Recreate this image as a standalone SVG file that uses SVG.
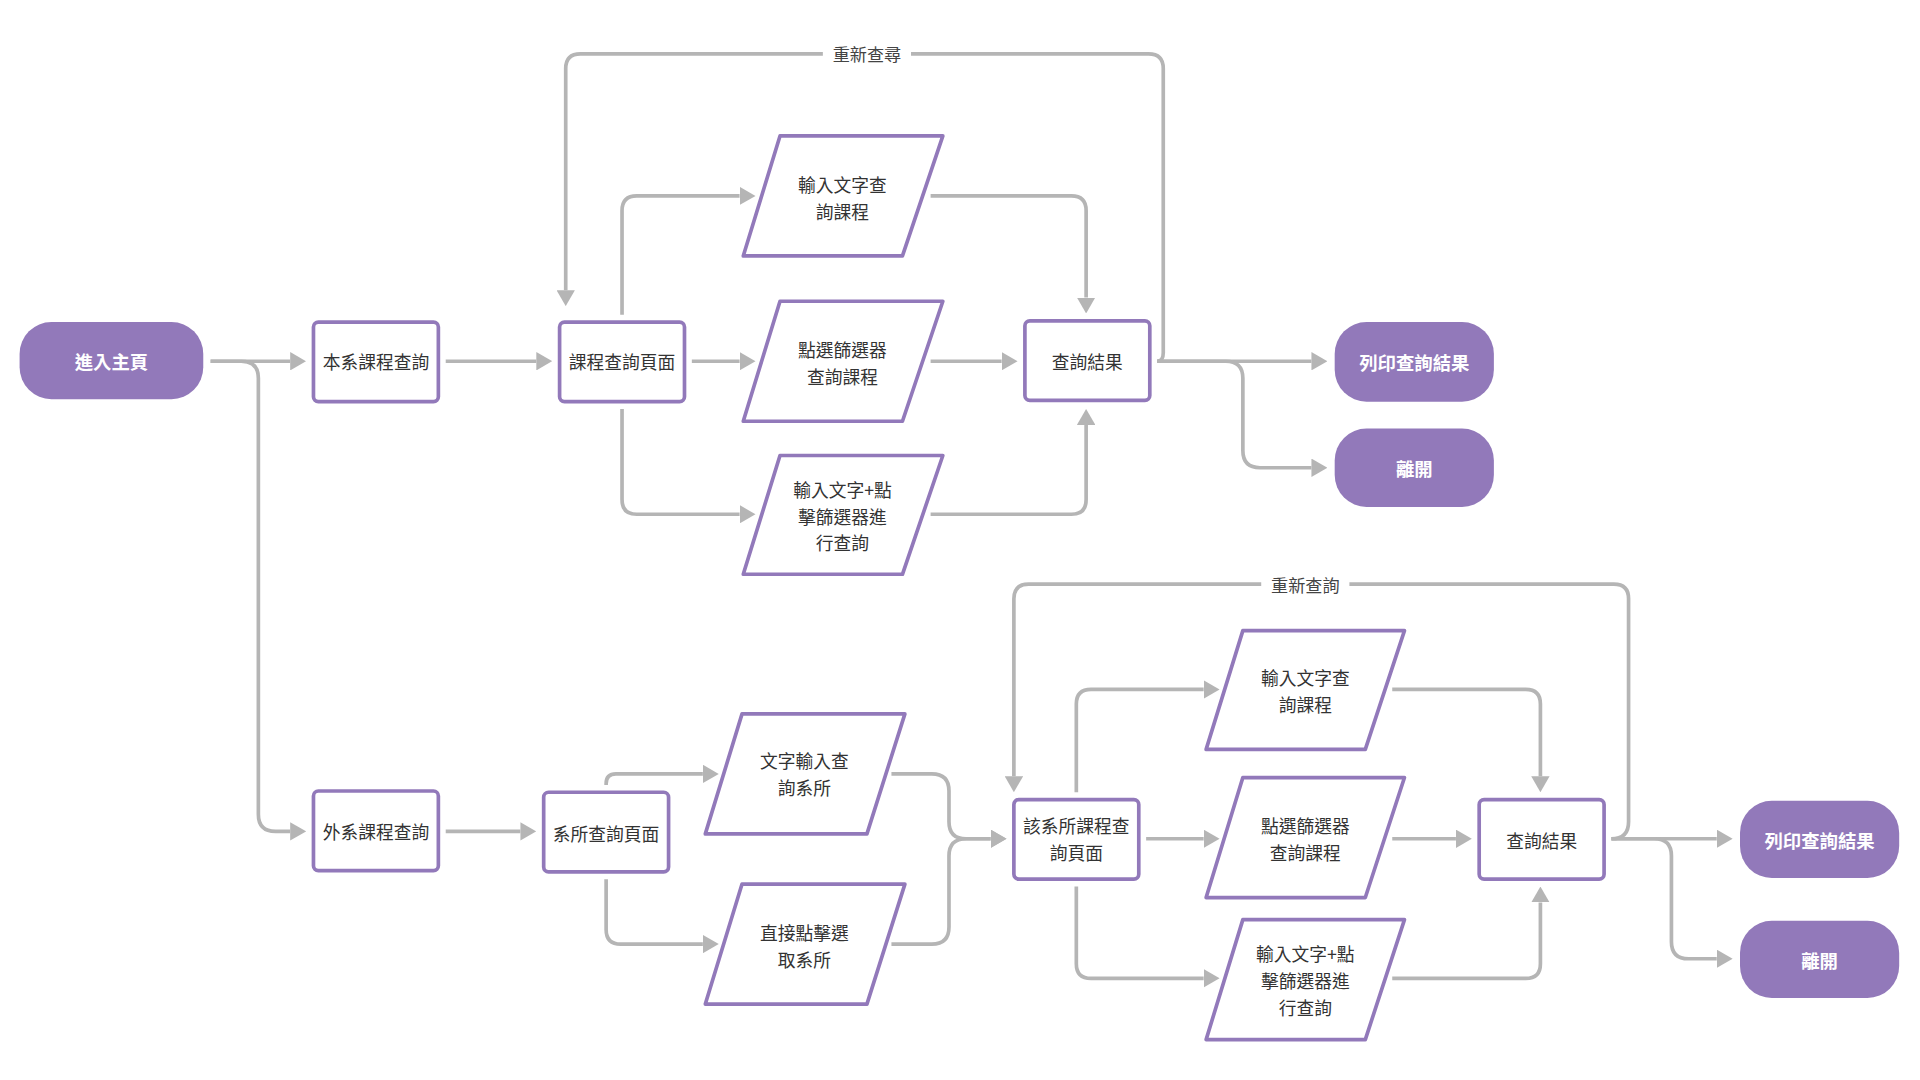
<svg xmlns="http://www.w3.org/2000/svg" width="1920" height="1080" viewBox="0 0 1920 1080">
<style>
.term{fill:#9279BA;}
.termt{fill:#ffffff;font-family:"Noto Sans CJK TC","Noto Sans CJK SC",sans-serif;font-size:15px;font-weight:bold;text-anchor:middle;dominant-baseline:central;}
.box{fill:#ffffff;stroke:#9279BA;stroke-width:3;}
.par{fill:#ffffff;stroke:#9279BA;stroke-width:3;stroke-linejoin:round;}
.t{fill:#333333;font-family:"Noto Sans CJK TC","Noto Sans CJK SC",sans-serif;font-size:14.5px;text-anchor:middle;dominant-baseline:central;}
.c{fill:none;stroke:#B5B5B5;stroke-width:3;marker-end:url(#ah);}
.cn{fill:none;stroke:#B5B5B5;stroke-width:3;}
.lbl{fill:#444444;font-family:"Noto Sans CJK TC","Noto Sans CJK SC",sans-serif;font-size:14px;text-anchor:middle;dominant-baseline:central;}
</style>
<defs>
<marker id="ah" markerUnits="userSpaceOnUse" markerWidth="13" markerHeight="15" viewBox="0 0 13 15" refX="0" refY="7.5" orient="auto">
<path d="M0,0 L13,7.5 L0,15 z" fill="#B5B5B5"/>
</marker>
</defs>
<rect width="1920" height="1080" fill="#ffffff"/>
<g transform="scale(1.22449)">
<g id="connectors">
<path class="c" d="M172,295 H237"/>
<path class="c" d="M172,295 H197 Q211,295 211,309 V665 Q211,679 225,679 H237"/>
<path class="c" d="M364,295 H438"/>
<path class="c" d="M508,257 V172 Q508,160 520,160 H604"/>
<path class="c" d="M565,295 H604"/>
<path class="c" d="M508,334 V408 Q508,420 520,420 H604"/>
<path class="c" d="M760,160 H875 Q887,160 887,172 V243"/>
<path class="c" d="M760,295 H818"/>
<path class="c" d="M760,420 H875 Q887,420 887,408 V347"/>
<path class="c" d="M945,295 H1071"/>
<path class="c" d="M945,295 H1001 Q1015,295 1015,309 V368 Q1015,382 1029,382 H1071"/>
<path class="c" d="M945,295 Q950,295 950,288 V56 Q950,44 938,44 H474 Q462,44 462,56 V237"/>
<path class="c" d="M364,679 H425"/>
<path class="c" d="M495,641 V640 Q495,632 503,632 H574"/>
<path class="c" d="M495,718 V759 Q495,771 507,771 H574"/>
<path class="c" d="M728,632 H761 Q775,632 775,646 V671 Q775,685 789,685 H809"/>
<path class="c" d="M728,771 H761 Q775,771 775,757 V699 Q775,685 789,685 H809"/>
<path class="c" d="M1316,685 Q1330,685 1330,671 V489 Q1330,477 1318,477 H840 Q828,477 828,489 V634"/>
<path class="c" d="M879,647 V575 Q879,563 891,563 H983"/>
<path class="c" d="M936,685 H983"/>
<path class="c" d="M879,724 V787 Q879,799 891,799 H983"/>
<path class="c" d="M1137,563 H1246 Q1258,563 1258,575 V634"/>
<path class="c" d="M1137,685 H1189"/>
<path class="c" d="M1137,799 H1246 Q1258,799 1258,787 V737"/>
<path class="c" d="M1316,685 H1402"/>
<path class="c" d="M1316,685 H1351 Q1365,685 1365,699 V769 Q1365,783 1379,783 H1402"/>
<rect x="672" y="34" width="72" height="20" fill="#ffffff"/>
<text class="lbl" x="708" y="44">重新查尋</text>
<rect x="1030" y="467" width="72" height="20" fill="#ffffff"/>
<text class="lbl" x="1066" y="477">重新查詢</text>
</g>
<g id="n_home"><rect class="term" x="16" y="263" width="150" height="63" rx="26"/><text class="termt" x="91" y="295">進入主頁</text></g>
<g id="n_dept"><rect class="box" x="256" y="263" width="102" height="65" rx="4"/><text class="t" x="307" y="295">本系課程查詢</text></g>
<g id="n_page"><rect class="box" x="457" y="263" width="102" height="65" rx="4"/><text class="t" x="508" y="295">課程查詢頁面</text></g>
<g id="n_in1"><path class="par" d="M637,111 H770 L737,209 H607 Z"/><text class="t" x="688" y="150">輸入文字查</text><text class="t" x="688" y="172">詢課程</text></g>
<g id="n_fl1"><path class="par" d="M637,246 H770 L737,344 H607 Z"/><text class="t" x="688" y="285">點選篩選器</text><text class="t" x="688" y="307">查詢課程</text></g>
<g id="n_both1"><path class="par" d="M637,372 H770 L737,469 H607 Z"/><text class="t" x="688" y="399">輸入文字+點</text><text class="t" x="688" y="421">擊篩選器進</text><text class="t" x="688" y="443">行查詢</text></g>
<g id="n_res1"><rect class="box" x="837" y="262" width="102" height="65" rx="4"/><text class="t" x="888" y="295">查詢結果</text></g>
<g id="n_print1"><rect class="term" x="1090" y="263" width="130" height="65" rx="26"/><text class="termt" x="1155" y="296">列印查詢結果</text></g>
<g id="n_exit1"><rect class="term" x="1090" y="350" width="130" height="64" rx="26"/><text class="termt" x="1155" y="382">離開</text></g>
<g id="n_other"><rect class="box" x="256" y="646" width="102" height="65" rx="4"/><text class="t" x="307" y="679">外系課程查詢</text></g>
<g id="n_deptpage"><rect class="box" x="444" y="647" width="102" height="65" rx="4"/><text class="t" x="495" y="680">系所查詢頁面</text></g>
<g id="n_dtext"><path class="par" d="M606,583 H739 L708,681 H576 Z"/><text class="t" x="657" y="621">文字輸入查</text><text class="t" x="657" y="643">詢系所</text></g>
<g id="n_dclick"><path class="par" d="M606,722 H739 L708,820 H576 Z"/><text class="t" x="657" y="761">直接點擊選</text><text class="t" x="657" y="783">取系所</text></g>
<g id="n_page2"><rect class="box" x="828" y="653" width="102" height="65" rx="4"/><text class="t" x="879" y="674">該系所課程查</text><text class="t" x="879" y="696">詢頁面</text></g>
<g id="n_in2"><path class="par" d="M1015,515 H1147 L1115,612 H985 Z"/><text class="t" x="1066" y="553">輸入文字查</text><text class="t" x="1066" y="575">詢課程</text></g>
<g id="n_fl2"><path class="par" d="M1015,635 H1147 L1115,733 H985 Z"/><text class="t" x="1066" y="674">點選篩選器</text><text class="t" x="1066" y="696">查詢課程</text></g>
<g id="n_both2"><path class="par" d="M1015,751 H1147 L1115,849 H985 Z"/><text class="t" x="1066" y="778">輸入文字+點</text><text class="t" x="1066" y="800">擊篩選器進</text><text class="t" x="1066" y="822">行查詢</text></g>
<g id="n_res2"><rect class="box" x="1208" y="653" width="102" height="65" rx="4"/><text class="t" x="1259" y="686">查詢結果</text></g>
<g id="n_print2"><rect class="term" x="1421" y="654" width="130" height="63" rx="26"/><text class="termt" x="1486" y="686">列印查詢結果</text></g>
<g id="n_exit2"><rect class="term" x="1421" y="752" width="130" height="63" rx="26"/><text class="termt" x="1486" y="784">離開</text></g>
</g>
</svg>
